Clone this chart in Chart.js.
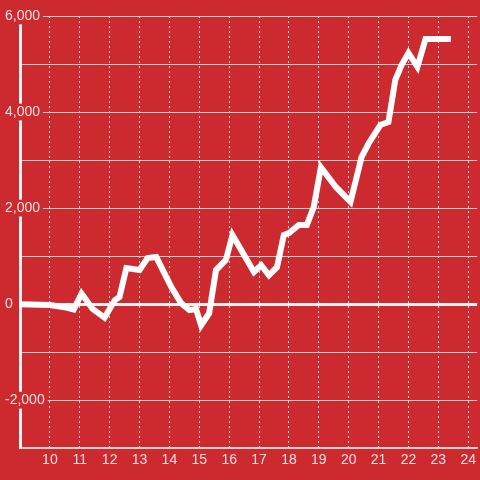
<!DOCTYPE html>
<html>
<head>
<meta charset="utf-8">
<script src="https://cdn.jsdelivr.net/npm/chart.js@4/dist/chart.umd.min.js"></script>
<style>
  html, body { margin: 0; padding: 0; background: #cc2a2f; }
  #wrap { width: 480px; height: 480px; }
</style>
</head>
<body>
<div id="wrap"><canvas id="myChart"></canvas></div>
<script>
// hours of the day vs running total
var hours = [9.0, 10.0, 10.55, 10.8, 11.06, 11.43, 11.83, 12.17, 12.33, 12.56, 13.0, 13.27, 13.56,
    14.06, 14.39, 14.67, 14.89, 15.06, 15.33, 15.56, 15.89, 16.11, 16.83, 17.07, 17.33, 17.6,
    17.83, 18.0, 18.33, 18.6, 18.83, 19.07, 19.57, 20.06, 20.43, 20.67, 21.06, 21.33, 21.56,
    21.77, 22.0, 22.3, 22.57, 23.42];
var totals = [0, -20, -70, -110, 220, -100, -280, 80, 150, 750, 710, 960, 980,
    360, 20, -125, -100, -440, -190, 710, 920, 1440, 670, 810, 600, 770,
    1440, 1480, 1650, 1650, 2020, 2850, 2440, 2130, 3060, 3350, 3730, 3790, 4670,
    4980, 5230, 4940, 5520, 5520];
var xTicks = [10, 11, 12, 13, 14, 15, 16, 17, 18, 19, 20, 21, 22, 23, 24];
var yTicks = [-3000, -2000, -1000, 0, 1000, 2000, 3000, 4000, 5000, 6000];
var yTickLabels = ["", "-2,000", "", "0", "", "2,000", "", "4,000", "", "6,000"];

var red = '#cc2a2f';
var points = [];
for (var i = 0; i < hours.length; i++) {
    points.push({x: hours[i], y: totals[i]});
}

var ctx = document.getElementById("myChart").getContext('2d');
var myChart = new Chart(ctx, {
    type: 'line',
    data: {
        datasets: [{
            data: points,
            borderColor: '#ffffff',
            borderWidth: 6,
            pointRadius: 0,
            tension: 0,
            fill: false
        }]
    },
    options: {
        responsive: true,
        maintainAspectRatio: false,
        animation: false,
        layout: { padding: { left: 20, top: 16, right: 0, bottom: 7 } },
        plugins: { legend: { display: false }, tooltip: { enabled: false } },
        scales: {
            x: {
                type: 'linear',
                min: 9,
                max: 24.3,
                afterBuildTicks: function(scale) {
                    scale.ticks = xTicks.map(function(v) { return {value: v}; });
                },
                ticks: {
                    autoSkip: false,
                    maxRotation: 0,
                    padding: 4,
                    color: 'rgba(255,255,255,0.85)',
                    font: { family: 'Liberation Sans', size: 14 }
                },
                grid: {
                    color: 'rgba(235,235,235,0.9)',
                    lineWidth: 1,
                    drawTicks: false
                },
                border: {
                    display: true,
                    color: '#d6d6d6',
                    width: 1.5,
                    dash: [2, 3]
                }
            },
            y: {
                min: -3000,
                max: 6000,
                afterBuildTicks: function(scale) {
                    scale.ticks = yTicks.map(function(v) { return {value: v}; });
                },
                afterFit: function(scale) { scale.width = 0; },
                ticks: {
                    mirror: true,
                    padding: -15,
                    color: 'rgba(255,255,255,0.85)',
                    font: { family: 'Liberation Sans', size: 14 },
                    showLabelBackdrop: true,
                    backdropColor: red,
                    backdropPadding: { left: 2, right: 3, top: 0, bottom: 0 },
                    callback: function(value) {
                        var idx = yTicks.indexOf(value);
                        return idx >= 0 ? yTickLabels[idx] : '';
                    }
                },
                grid: {
                    color: function(c) { return c.tick && c.tick.value === 0 ? '#f4f4f4' : '#cfcfcf'; },
                    lineWidth: function(c) { return c.tick && c.tick.value === 0 ? 3 : 1; },
                    drawTicks: false
                },
                border: {
                    display: true,
                    color: '#f4f4f4',
                    width: 3
                }
            }
        }
    }
});
</script>
</body>
</html>
